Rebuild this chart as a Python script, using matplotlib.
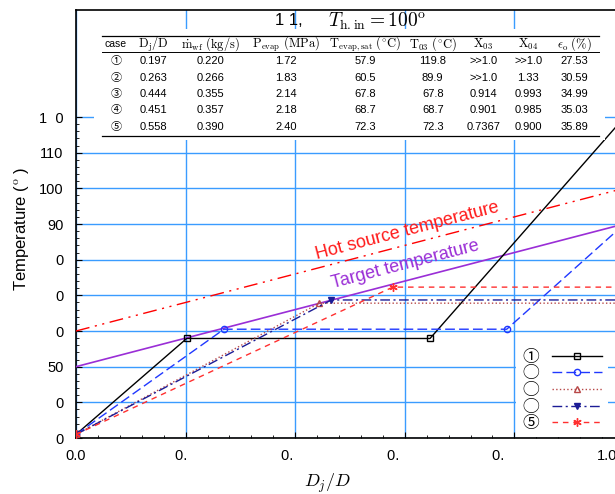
import numpy as np
import matplotlib
matplotlib.use("Agg")
import matplotlib.pyplot as plt
from matplotlib.patches import Rectangle
from matplotlib.ticker import FixedLocator
from matplotlib.transforms import ScaledTranslation

plt.rcParams["font.family"] = ["Liberation Sans", "Noto Sans CJK SC", "DejaVu Sans"]
plt.rcParams["mathtext.fontset"] = "cm"

# summary table of the five cases
case_ids = ["①", "②", "③", "④", "⑤"]
dj_d = ["0.197", "0.263", "0.444", "0.451", "0.558"]
m_wf = ["0.220", "0.266", "0.355", "0.357", "0.390"]
p_evap = ["1.72", "1.83", "2.14", "2.18", "2.40"]
t_sat = [57.9, 60.5, 67.8, 68.7, 72.3]
t_03 = [119.8, 89.9, 67.8, 68.7, 72.3]
x_03 = [">>1.0", ">>1.0", "0.914", "0.901", "0.7367"]
x_04 = [">>1.0", "1.33", "0.993", "0.985", "0.900"]
eff = ["27.53", "30.59", "34.99", "35.03", "35.89"]

# working fluid temperature profiles along D_j/D
t_inlet = 31.0
x_boil = [0.202, 0.270, 0.444, 0.466, 0.578]
x_dry = [0.646, 0.786, 1.0, 1.0, 1.0]

# heat source / target lines
x_ends = [0.0, 1.0]
hot_source = [60.0, 100.0]
target = [50.0, 90.0]

legend_labels = ["①", "◯", "◯", "◯", "⑤"]
xtick_labels = ["0.0", "0.  ", "0.  ", "0.  ", "0.  ", "1.0"]
ytick_labels = ["0", "0", "50", "0", "0", "0", "90", "100", "110", "1  0"]
# the x tick labels sit slightly left of their grid lines (pixels)
xlabel_shift = [0, 0, -4, -8, -12, -17]

styles = [
    dict(color="black", ls="-", marker="s", mfc="none", ms=5),
    dict(color="#2038ff", dashes=(7, 3), marker="o", mfc="none", ms=4.5),
    dict(color="#b84848", ls=":", marker="^", mfc="none", ms=5),
    dict(color="#1c1c96", dashes=(7, 2.5, 1.5, 2.5), marker="v", ms=5),
    dict(color="#ff3030", dashes=(4, 3.5), marker=(6, 2, 0), ms=6),
]

fig = plt.figure(figsize=(6.15, 4.94), dpi=100)
ax = fig.add_axes([76 / 615, 56 / 494, 548 / 615, 428 / 494])

for i in range(5):
    xs = [0.0, x_boil[i], x_dry[i]]
    ys = [t_inlet, t_sat[i], t_sat[i]]
    if x_dry[i] < 1.0:
        xs.append(1.0)
        ys.append(t_03[i])
    ax.plot(xs, ys, lw=1.0, mew=1.0, label=legend_labels[i], zorder=4, **styles[i])

ax.plot(x_ends, hot_source, color="red", lw=1.0,
        dashes=(10, 4, 1.5, 4, 1.5, 4), zorder=3)
ax.plot(x_ends, target, color="#9a2ed6", lw=1.2, zorder=3)

ang_hot = np.degrees(np.arctan2(hot_source[1] - hot_source[0], x_ends[1] - x_ends[0]))
ang_tgt = np.degrees(np.arctan2(target[1] - target[0], x_ends[1] - x_ends[0]))
ax.text(0.604, 88.0, "Hot source temperature", color="#ff1a1a", fontsize=13,
        rotation=ang_hot, transform_rotates_text=True, rotation_mode="anchor",
        ha="center", va="center", zorder=5)
ax.text(0.601, 78.5, "Target temperature", color="#9a2ed6", fontsize=13,
        rotation=ang_tgt, transform_rotates_text=True, rotation_mode="anchor",
        ha="center", va="center", zorder=5)

ax.set_xlim(0, 1.0)
ax.set_ylim(30, 150)
ax.set_xticks(np.arange(0, 1.01, 0.2))
ax.set_xticklabels(xtick_labels)
ax.set_yticks(np.arange(30, 121, 10))
ax.set_yticklabels(ytick_labels)
ax.xaxis.set_minor_locator(FixedLocator(np.arange(0, 1.001, 0.04)))
ax.yaxis.set_minor_locator(FixedLocator(np.arange(30, 120.1, 2)))
ax.tick_params(which="both", direction="in", labelsize=10.5)
ax.tick_params(which="major", length=4)
ax.tick_params(which="minor", length=2)
ax.tick_params(axis="x", pad=8)
ax.tick_params(axis="y", pad=9)
ax.grid(True, which="major", color="#3a9cff", lw=1.0)
ax.set_axisbelow(True)
for side in ["left", "bottom", "top", "right"]:
    ax.spines[side].set_linewidth(1.2)
for lbl, dx in zip(ax.get_xticklabels(), xlabel_shift):
    lbl.set_transform(lbl.get_transform() + ScaledTranslation(dx / 100, 0, fig.dpi_scale_trans))

ax.set_xlabel("$D_j/D$", fontsize=13)
ax.xaxis.set_label_coords(0.458, -0.078)
ax.set_ylabel("Temperature ($^{\\rm o}$ )", fontsize=12)
ax.yaxis.set_label_coords(-0.082, 0.488)

# table panel at the top of the axes
ax.add_patch(Rectangle((0.0328, 0.6963), 0.9325, 0.2593, transform=ax.transAxes,
                       facecolor="white", edgecolor="none", zorder=6))
ax.text(0.414, 0.9743, "1 1,", transform=ax.transAxes,
        ha="right", va="center", fontsize=12, zorder=7)
ax.text(0.460, 0.9743, "$T_{\\rm h.in} = 100^{\\rm o}$", transform=ax.transAxes,
        ha="left", va="center", fontsize=14, zorder=7)

col_x = [0.073, 0.142, 0.246, 0.383, 0.527, 0.651, 0.743, 0.825, 0.909]
header_y = 0.9206
row_y = [0.8797, 0.8416, 0.8037, 0.7652, 0.7278]
headers = ["case", "$\\mathrm{D_j/D}$", "$\\dot{\\mathrm{m}}_{\\mathrm{wf}}\\ \\mathrm{(kg/s)}$",
           "$\\mathrm{P_{evap}\\ (MPa)}$", "$\\mathrm{T_{evap,sat}\\ (^{\\circ}C)}$",
           "$\\mathrm{T_{03}\\ (^{\\circ}C)}$", "$\\mathrm{X_{03}}$", "$\\mathrm{X_{04}}$",
           "$\\epsilon_{\\mathrm{o}}\\ \\mathrm{(\\%)}$"]
header_size = [7.5, 9, 9, 9, 9, 9, 9, 9, 9]
for cx, h, fs in zip(col_x, headers, header_size):
    ax.text(cx, header_y, h, transform=ax.transAxes, ha="center", va="center",
            fontsize=fs, zorder=7)
for i in range(5):
    cells = [case_ids[i], dj_d[i], m_wf[i], p_evap[i], f"{t_sat[i]:.1f}",
             f"{t_03[i]:.1f}", x_03[i], x_04[i], eff[i]]
    for cx, c in zip(col_x, cells):
        ax.text(cx, row_y[i], c, transform=ax.transAxes, ha="center", va="center",
                fontsize=8, zorder=7)
for ry, lw in [(0.9393, 0.9), (0.9019, 0.7), (0.7056, 0.9)]:
    ax.plot([0.0474, 0.954], [ry, ry], transform=ax.transAxes, color="black",
            lw=lw, zorder=7, clip_on=False)

leg = ax.legend(loc="lower right", bbox_to_anchor=(0.971, 0.002), markerfirst=False,
                fontsize=12, handlelength=3.0, handletextpad=0.8, labelspacing=0.1,
                borderaxespad=0.0, borderpad=0.35, frameon=True, fancybox=False,
                framealpha=1.0, facecolor="white", edgecolor="none")
leg.set_zorder(8)

fig.savefig("out.png", dpi=100)
